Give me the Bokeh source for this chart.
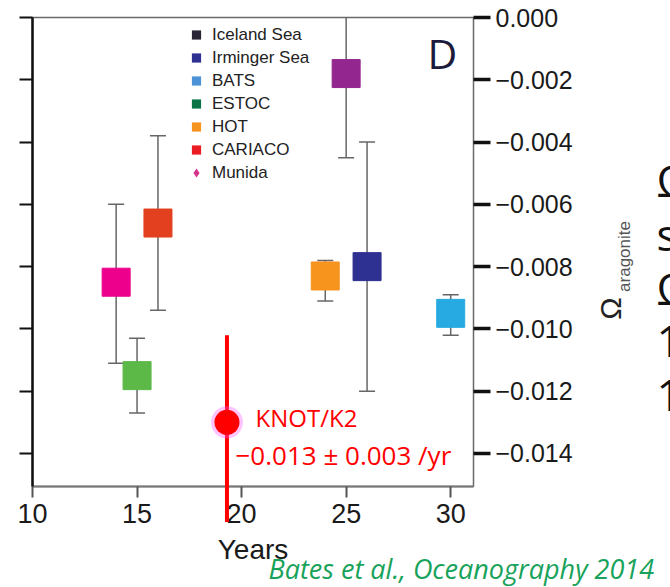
from bokeh.plotting import figure
from bokeh.models import (LinearAxis, FixedTicker, Legend, LegendItem,
                          ColumnDataSource, CustomJSTickFormatter)
from bokeh.core.properties import value
from bokeh.embed import file_html
from bokeh.resources import INLINE
import numpy as np
import math

# ---------------- data ----------------
stations = ["Iceland Sea", "Irminger Sea", "BATS", "ESTOC", "HOT", "CARIACO", "Munida"]
years = [25, 26, 30, 15, 24, 16, 14]
trend = [-0.0018, -0.0080, -0.0095, -0.0115, -0.0083, -0.0066, -0.0085]
trend_hi = [0.0005, -0.0040, -0.0089, -0.0103, -0.0078, -0.0038, -0.0060]
trend_lo = [-0.0045, -0.0120, -0.0102, -0.0127, -0.0091, -0.0094, -0.0111]
point_colors = ["#93278f", "#2e3192", "#27aae1", "#5cb947", "#f7941d", "#e2401f", "#ec008c"]
legend_colors = ["#2a2536", "#2e3192", "#4b92d6", "#0a7446", "#f7941d", "#ec1c24", "#d4348c"]
legend_markers = ["square", "square", "square", "square", "square", "square", "diamond"]

knot_years = [19.3]
knot_trend = [-0.0130]
knot_top = [-0.0102]
knot_bottom = [-0.0162]

x_ticks = [10, 15, 20, 25, 30]
y_ticks = [0.0, -0.002, -0.004, -0.006, -0.008, -0.010, -0.012, -0.014]
y_tick_labels = ["0.000", "\u22120.002", "\u22120.004", "\u22120.006", "\u22120.008",
                 "\u22120.010", "\u22120.012", "\u22120.014"]

ARIAL = "Liberation Sans"
SANS = "Open Sans"

# ---------------- layout ----------------
X0, X1 = 10, 31.09
Y0, Y1 = -0.01506, 0.0
FL, FR, FT, FB = 32, 473, 17, 486   # frame edges in page pixels


def sx(px):
    return X0 + (px - FL) * (X1 - X0) / (FR - FL)


def sy(py):
    return Y1 - (py - FT) * (Y1 - Y0) / (FB - FT)


p = figure(width=670, height=587, x_range=(X0, X1), y_range=(Y0, Y1),
           output_backend="svg", toolbar_location=None,
           x_axis_location=None, y_axis_location=None,
           min_border_left=FL, min_border_right=670 - FR, min_border_top=FT,
           min_border_bottom=587 - FB)
p.grid.visible = False
p.background_fill_color = "white"
p.border_fill_color = "white"
p.outline_line_color = "#6a6a6a"
p.outline_line_width = 1.5

# bottom axis
xa = LinearAxis(ticker=FixedTicker(ticks=x_ticks), axis_label="Years")
xa.axis_line_color = "#777777"
xa.axis_line_width = 2
xa.major_tick_out = 11
xa.major_tick_in = 0
xa.minor_tick_out = 0
xa.minor_tick_in = 0
xa.major_tick_line_color = "#555555"
xa.major_tick_line_width = 2
xa.major_label_text_font = ARIAL
xa.major_label_text_font_size = "27px"
xa.major_label_text_color = "#1a1a1a"
xa.major_label_standoff = 6
xa.axis_label_text_font = ARIAL
xa.axis_label_text_font_size = "28px"
xa.axis_label_text_font_style = "normal"
xa.axis_label_text_color = "#1a1a1a"
xa.axis_label_standoff = 8
p.add_layout(xa, "below")

# left axis (ticks only)
yl = LinearAxis(ticker=FixedTicker(ticks=y_ticks),
                formatter=CustomJSTickFormatter(code="return ''"))
yl.axis_line_color = "#111111"
yl.axis_line_width = 2.5
yl.major_tick_out = 13
yl.major_tick_in = 0
yl.minor_tick_out = 0
yl.minor_tick_in = 0
yl.major_tick_line_color = "#111111"
yl.major_tick_line_width = 2
yl.major_label_standoff = 0
p.add_layout(yl, "left")

# right axis
yr = LinearAxis(ticker=FixedTicker(ticks=y_ticks),
                major_label_overrides=dict(zip(y_ticks, y_tick_labels)))
yr.axis_line_color = None
yr.major_tick_out = 17
yr.major_tick_in = 0
yr.minor_tick_out = 0
yr.minor_tick_in = 0
yr.major_tick_line_color = "#111111"
yr.major_tick_line_width = 3.5
yr.major_label_standoff = 5
yr.major_label_text_font = ARIAL
yr.major_label_text_font_size = "25px"
yr.major_label_text_color = "#1a1a1a"
p.add_layout(yr, "right")

# ---------------- marks ----------------
src = ColumnDataSource(dict(year=years, trend=trend, hi=trend_hi, lo=trend_lo,
                            color=point_colors, name=stations))
p.segment(x0="year", y0="lo", x1="year", y1="hi", source=src,
          line_color="#666666", line_width=1.5)
p.scatter(x="year", y="hi", marker="dash", size=16, source=src,
          line_color="#666666", line_width=1.5)
p.scatter(x="year", y="lo", marker="dash", size=16, source=src,
          line_color="#666666", line_width=1.5)
p.scatter(x="year", y="trend", marker="square", size=28, source=src,
          fill_color="color", line_color="color", line_width=1)

# KNOT/K2
p.segment(x0=knot_years, y0=knot_bottom, x1=knot_years, y1=knot_top,
          line_color="#ff0000", line_width=4, level="overlay")
p.scatter(x=knot_years, y=knot_trend, size=32, fill_color="#ff55ff", fill_alpha=0.35,
          line_color=None, level="overlay")
p.scatter(x=knot_years, y=knot_trend, size=25, fill_color="#ff0000",
          line_color=None, level="overlay")

# legend (legend-only renderers with no visible point)
items = []
for name, col, mk in zip(stations, legend_colors, legend_markers):
    r = p.scatter(x=np.array([np.nan]), y=np.array([np.nan]), marker=mk,
                  fill_color=col, line_color=None)
    items.append(LegendItem(label=name, renderers=[r]))
legend = Legend(items=items, location=(151, 302), padding=0, margin=0,
                border_line_color=None, background_fill_alpha=0,
                label_text_font=ARIAL, label_text_font_size="17px",
                label_text_color="#222222",
                glyph_width=26, glyph_height=23, label_height=20,
                label_standoff=3, spacing=0)
p.add_layout(legend)


# ---------------- texts (unclipped text glyphs) ----------------
def lab(px, py, text, font, size, color, style="normal", angle=0.0,
        align="left", baseline="middle"):
    p.text(x=[sx(px)], y=[sy(py)], text=[text], text_font=value(font),
           text_font_size=size, text_color=color, text_font_style=style,
           angle=angle, text_align=align, text_baseline=baseline, level="overlay")


lab(427, 52, "D", SANS, "41px", "#1c1b3b")
lab(255, 417, "KNOT/K2", SANS, "24px", "#ff0000")
lab(235, 454, "\u22120.013 \u00b1 0.003 /yr", SANS, "26px", "#ff0000")
lab(268, 568, "Bates et al., Oceanography 2014", SANS, "27px", "#18a25a", style="italic")
lab(610, 308, "\u03a9", ARIAL, "30px", "#222222", angle=math.pi / 2, align="center")
lab(624, 256, "aragonite", ARIAL, "17px", "#555555", angle=math.pi / 2, align="center")

side_letters = ["\u03a9", "s", "\u03a9", "1", "1"]
side_py = [179, 233, 287, 341, 395]
for t, yy in zip(side_letters, side_py):
    lab(656, yy, t, SANS, "44px", "#111111", baseline="alphabetic")

open("out.html", "w").write(file_html(p, INLINE))
